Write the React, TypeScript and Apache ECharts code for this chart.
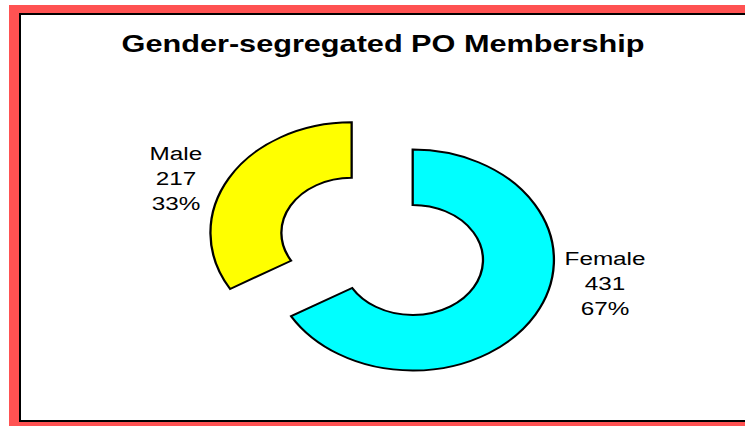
import React, { useEffect, useRef } from "react";
import * as echarts from "echarts";

const categories = ["Female", "Male"];
const values = [431, 217];
const titleText = "Gender-segregated PO Membership";

const sliceColors = ["#00ffff", "#ffff00"];
const explode = [0, 55];
const labelOffsets = [
  [150.5, 23],
  [-137.5, -54],
];

const CX = 412.7;
const CY = 260;
const R = 110.5;
const R0 = 55;
const SX = 1.278;

export default function App() {
  const ref = useRef<HTMLDivElement>(null);
  useEffect(() => {
    if (!ref.current) return;
    const chart = echarts.init(ref.current, null, { renderer: "svg" });
    const total = values.reduce((a, b) => a + b, 0);
    const cum: number[] = [];
    values.reduce((acc, v, i) => {
      cum[i] = acc;
      return acc + v;
    }, 0);

    chart.setOption({
      animation: false,
      graphic: [
        {
          type: "rect",
          z: -10,
          shape: { x: 9, y: 5, width: 800, height: 500 },
          style: { fill: "#ff5252" },
        },
        {
          type: "rect",
          z: -9,
          shape: { x: 20, y: 14, width: 800, height: 407 },
          style: { fill: "#ffffff", stroke: "#000000", lineWidth: 2 },
        },
        {
          type: "text",
          x: 383,
          y: 44,
          scaleX: SX,
          style: {
            text: titleText,
            fill: "#000000",
            fontFamily: "Liberation Sans, Arial, sans-serif",
            fontWeight: "bold",
            fontSize: 24,
            align: "center",
            verticalAlign: "middle",
          },
        },
      ],
      series: [
        {
          type: "custom",
          coordinateSystem: "none",
          data: values,
          renderItem: (params: any, api: any) => {
            const i = params.dataIndex;
            const v = api.value(0);
            const start = -Math.PI / 2 + (cum[i] / total) * Math.PI * 2;
            const end = start + (v / total) * Math.PI * 2;
            const mid = (start + end) / 2;
            const cx = CX + Math.cos(mid) * explode[i] * SX;
            const cy = CY + Math.sin(mid) * explode[i];
            const pct = Math.round((v / total) * 100);
            return {
              type: "group",
              children: [
                {
                  type: "sector",
                  x: cx,
                  y: cy,
                  scaleX: SX,
                  shape: {
                    cx: 0,
                    cy: 0,
                    r: R,
                    r0: R0,
                    startAngle: start,
                    endAngle: end,
                    clockwise: true,
                  },
                  style: {
                    fill: sliceColors[i],
                    stroke: "#000000",
                    lineWidth: 1.8,
                    strokeNoScale: true,
                  },
                },
                {
                  type: "text",
                  x: cx + labelOffsets[i][0] * SX,
                  y: cy + labelOffsets[i][1],
                  scaleX: SX,
                  style: {
                    text: `${categories[i]}\n${v}\n${pct}%`,
                    fill: "#000000",
                    fontFamily: "Liberation Sans, Arial, sans-serif",
                    fontSize: 19,
                    lineHeight: 25,
                    align: "center",
                    verticalAlign: "middle",
                  },
                },
              ],
            };
          },
        },
      ],
    });
    return () => chart.dispose();
  }, []);
  return (
    <div
      ref={ref}
      style={{ position: "fixed", left: 0, top: 0, width: 745, height: 426, background: "#ffffff" }}
    />
  );
}
